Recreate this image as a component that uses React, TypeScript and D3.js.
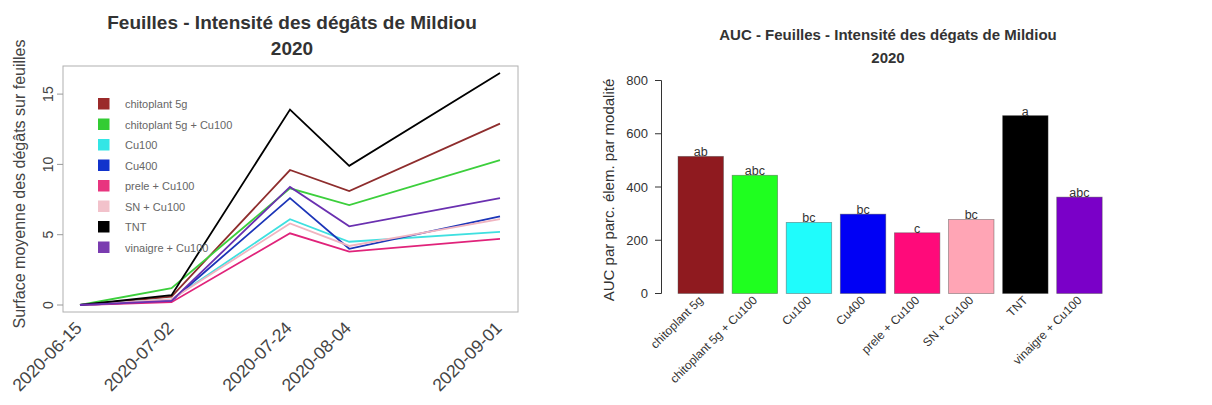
import React, { useEffect, useRef } from 'react';
import * as d3 from 'd3';

// --- left chart data (mean leaf damage surface per date) ---
const dates = ['2020-06-15', '2020-07-02', '2020-07-24', '2020-08-04', '2020-09-01'];
const modalites = ['chitoplant 5g', 'chitoplant 5g + Cu100', 'Cu100', 'Cu400', 'prele + Cu100', 'SN + Cu100', 'TNT', 'vinaigre + Cu100'];

const chitoplant5g = [0, 0.6, 9.6, 8.1, 12.9];
const chitoplantCu100 = [0, 1.2, 8.3, 7.1, 10.3];
const cu100 = [0, 0.4, 6.1, 4.5, 5.2];
const cu400 = [0, 0.3, 7.6, 4.0, 6.3];
const preleCu100 = [0, 0.2, 5.1, 3.8, 4.7];
const snCu100 = [0, 0.4, 5.8, 4.2, 6.1];
const tnt = [0, 0.7, 13.9, 9.9, 16.5];
const vinaigreCu100 = [0, 0.3, 8.4, 5.6, 7.6];
const yTicksLeft = [0, 5, 10, 15];

// --- right chart data (AUC per modalite + letters) ---
const aucValues = [515, 444, 267, 298, 228, 278, 668, 362];
const aucLetters = ['ab', 'abc', 'bc', 'bc', 'c', 'bc', 'a', 'abc'];
const yTicksRight = [0, 200, 400, 600, 800];

const lineColors = ['#8e2d2d', '#3ccf3c', '#3fe0e0', '#1c35b8', '#e0237a', '#f0b4c0', '#000000', '#6a30b0'];
const legendColors = ['#9b2a2a', '#33cc33', '#33e6e6', '#1133cc', '#e8357f', '#f2c2cb', '#000000', '#7a3cb0'];
const barColors = ['#8f1a1f', '#1fff1f', '#1ffcfc', '#0000f5', '#ff0a7a', '#ffa5b5', '#000000', '#7a00c8'];

const FONT = 'Liberation Sans, Arial, Helvetica, sans-serif';

export default function App() {
  const ref = useRef<SVGSVGElement>(null);

  useEffect(() => {
    const svg = d3.select(ref.current);
    svg.selectAll('*').remove();

    // ================= left: line chart =================
    const series = [chitoplant5g, chitoplantCu100, cu100, cu400, preleCu100, snCu100, tnt, vinaigreCu100];
    const parse = d3.timeParse('%Y-%m-%d');
    const dt = dates.map(d => parse(d) as Date);

    const x = d3.scaleTime().domain(d3.extent(dt) as [Date, Date]).range([80, 500]);
    const y = d3.scaleLinear().domain([0, 5]).range([305, 234.7]);

    const left = svg.append('g');

    left.append('rect')
      .attr('x', 63).attr('y', 66).attr('width', 455).attr('height', 246)
      .attr('fill', 'none').attr('stroke', '#b0b0b0').attr('stroke-width', 1);

    // y axis
    const ya = left.append('g');
    yTicksLeft.forEach(t => {
      ya.append('line').attr('x1', 57).attr('x2', 63).attr('y1', y(t)).attr('y2', y(t)).attr('stroke', '#999');
      ya.append('text')
        .attr('transform', `translate(53,${y(t)}) rotate(-90)`)
        .attr('text-anchor', 'middle')
        .attr('font-family', FONT).attr('font-size', 14).attr('fill', '#444')
        .text(t);
    });
    ya.append('text')
      .attr('transform', `translate(25,184) rotate(-90)`)
      .attr('text-anchor', 'middle')
      .attr('font-family', FONT).attr('font-size', 16).attr('fill', '#444')
      .text('Surface moyenne des dégâts sur feuilles');

    // x axis labels (no ticks)
    dt.forEach((d, i) => {
      left.append('text')
        .attr('transform', `translate(${x(d) + 3},${329}) rotate(-45)`)
        .attr('text-anchor', 'end')
        .attr('font-family', FONT).attr('font-size', 17.5).attr('fill', '#444')
        .text(dates[i]);
    });

    const line = d3.line<number>()
      .x((_, i) => x(dt[i]))
      .y(v => y(v));

    series.forEach((s, i) => {
      left.append('path')
        .datum(s)
        .attr('fill', 'none')
        .attr('stroke', lineColors[i])
        .attr('stroke-width', 1.8)
        .attr('d', line);
    });

    // legend
    const lg = left.append('g');
    modalites.forEach((m, i) => {
      const cy = 104 + i * 20.5;
      lg.append('rect').attr('x', 98).attr('y', cy - 6).attr('width', 11.5).attr('height', 11.5).attr('fill', legendColors[i]);
      lg.append('text')
        .attr('x', 125).attr('y', cy + 4)
        .attr('font-family', FONT).attr('font-size', 11).attr('fill', '#666')
        .text(m);
    });

    // title
    left.append('text')
      .attr('x', 292).attr('y', 29)
      .attr('text-anchor', 'middle')
      .attr('font-family', FONT).attr('font-size', 19).attr('font-weight', 'bold').attr('fill', '#333')
      .text('Feuilles - Intensité des dégâts de Mildiou');
    left.append('text')
      .attr('x', 292).attr('y', 55)
      .attr('text-anchor', 'middle')
      .attr('font-family', FONT).attr('font-size', 19).attr('font-weight', 'bold').attr('fill', '#333')
      .text('2020');

    // ================= right: bar chart =================
    const right = svg.append('g');
    const xb = d3.scaleBand().domain(modalites).range([673.7, 1106.5]).paddingInner(0.16).paddingOuter(0.08);
    const yb = d3.scaleLinear().domain([0, 800]).range([293.5, 80.5]);

    right.selectAll('rect.bar')
      .data(aucValues)
      .enter().append('rect')
      .attr('class', 'bar')
      .attr('x', (_, i) => xb(modalites[i]) as number)
      .attr('y', d => yb(d))
      .attr('width', xb.bandwidth())
      .attr('height', d => yb(0) - yb(d))
      .attr('fill', (_, i) => barColors[i])
      .attr('stroke', '#444').attr('stroke-opacity', 0.5).attr('stroke-width', 0.8);

    right.selectAll('text.letter')
      .data(aucValues)
      .enter().append('text')
      .attr('class', 'letter')
      .attr('x', (_, i) => (xb(modalites[i]) as number) + xb.bandwidth() / 2)
      .attr('y', d => yb(d))
      .attr('text-anchor', 'middle')
      .attr('font-family', FONT).attr('font-size', 12.5).attr('fill', '#333')
      .text((_, i) => aucLetters[i]);

    // y axis
    right.append('line').attr('x1', 661.5).attr('x2', 661.5).attr('y1', yb(0)).attr('y2', yb(800)).attr('stroke', '#333');
    yTicksRight.forEach(t => {
      right.append('line').attr('x1', 655).attr('x2', 661.5).attr('y1', yb(t)).attr('y2', yb(t)).attr('stroke', '#333');
      right.append('text')
        .attr('x', 648).attr('y', yb(t) + 4.5)
        .attr('text-anchor', 'end')
        .attr('font-family', FONT).attr('font-size', 13).attr('fill', '#333')
        .text(t);
    });
    right.append('text')
      .attr('transform', `translate(614,190) rotate(-90)`)
      .attr('text-anchor', 'middle')
      .attr('font-family', FONT).attr('font-size', 15).attr('fill', '#333')
      .text('AUC par parc. élem. par modalité');

    // x labels
    modalites.forEach(m => {
      const cx = (xb(m) as number) + xb.bandwidth() / 2;
      right.append('text')
        .attr('transform', `translate(${cx + 3},${301}) rotate(-45)`)
        .attr('text-anchor', 'end')
        .attr('font-family', FONT).attr('font-size', 12).attr('fill', '#333')
        .text(m);
    });

    // title
    right.append('text')
      .attr('x', 888).attr('y', 40)
      .attr('text-anchor', 'middle')
      .attr('font-family', FONT).attr('font-size', 15).attr('font-weight', 'bold').attr('fill', '#333')
      .text('AUC - Feuilles - Intensité des dégats de Mildiou');
    right.append('text')
      .attr('x', 888).attr('y', 63)
      .attr('text-anchor', 'middle')
      .attr('font-family', FONT).attr('font-size', 15).attr('font-weight', 'bold').attr('fill', '#333')
      .text('2020');
  }, []);

  return (
    <svg
      ref={ref}
      width={1212}
      height={405}
      style={{ position: 'absolute', left: 0, top: 0, background: '#fff' }}
    />
  );
}
